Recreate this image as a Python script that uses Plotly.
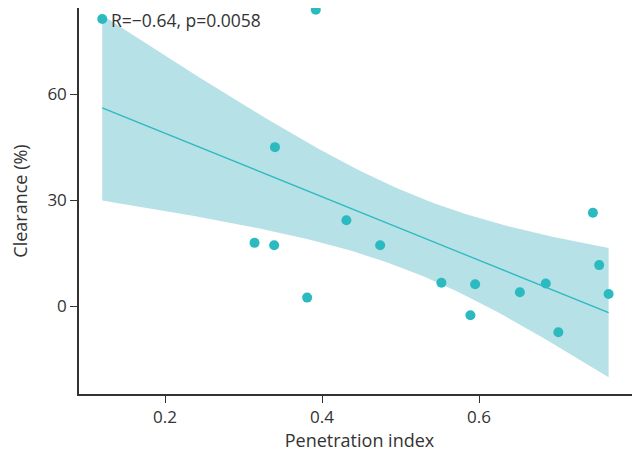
import numpy as np
import plotly.graph_objects as go

penetration_index = [0.120, 0.392, 0.340, 0.314, 0.339, 0.381, 0.431, 0.474, 0.552,
                     0.589, 0.595, 0.652, 0.685, 0.701, 0.745, 0.753, 0.765]
clearance = [81.3, 83.9, 45.0, 17.9, 17.2, 2.4, 24.3, 17.2, 6.6,
             -2.6, 6.2, 3.9, 6.4, -7.4, 26.4, 11.6, 3.4]
y_ticks = [0, 30, 60]
x_ticks = [0.2, 0.4, 0.6]
stat_label = "R=\u22120.64, p=0.0058"

x = np.array(penetration_index)
y = np.array(clearance)
n = len(x)
slope, intercept = np.polyfit(x, y, 1)
resid = y - (slope * x + intercept)
s = np.sqrt(np.sum(resid ** 2) / (n - 2))
t_crit = 2.131  # t(0.975, df=15)
xg = np.linspace(x.min(), x.max(), 100)
yg = slope * xg + intercept
se = s * np.sqrt(1 / n + (xg - x.mean()) ** 2 / np.sum((x - x.mean()) ** 2))
upper = yg + t_crit * se
lower = yg - t_crit * se

teal = "#2bbac0"
band = "#b5e1e7"
ink = "#333333"

fig = go.Figure()
fig.add_trace(go.Scatter(x=np.concatenate([xg, xg[::-1]]), y=np.concatenate([upper, lower[::-1]]),
                         fill="toself", fillcolor=band, line=dict(width=0), mode="lines",
                         hoverinfo="skip", showlegend=False))
fig.add_trace(go.Scatter(x=xg, y=yg, mode="lines", line=dict(color=teal, width=1.3), showlegend=False))
fig.add_trace(go.Scatter(x=x, y=y, mode="markers", marker=dict(color=teal, size=10),
                         cliponaxis=False, showlegend=False))

fig.add_annotation(x=0.1295, y=80.9, text=stat_label, showarrow=False, xanchor="left", yanchor="middle",
                   borderpad=0, font=dict(size=17.5, color=ink))

axis_common = dict(showgrid=False, zeroline=False, showline=True, linecolor=ink, linewidth=1.5,
                   ticks="outside", ticklen=7, tickwidth=1.3, tickcolor=ink, automargin=False,
                   tickfont=dict(size=17, color=ink), title_font=dict(size=18, color=ink))
fig.update_xaxes(range=[0.0904, 0.805], tickvals=x_ticks, ticktext=[f"{v:.1f}" for v in x_ticks],
                 title_text="Penetration index", title_standoff=6, **axis_common)
fig.update_yaxes(range=[-24.9, 84.4], tickvals=y_ticks, title_text="Clearance (%)", title_standoff=31, **axis_common)

fig.update_layout(width=632, height=451, margin=dict(l=71, r=0, t=0, b=65),
                  plot_bgcolor="white", paper_bgcolor="white",
                  font=dict(family="Open Sans, Noto Sans, sans-serif", color=ink))
fig.write_html("out.html")
